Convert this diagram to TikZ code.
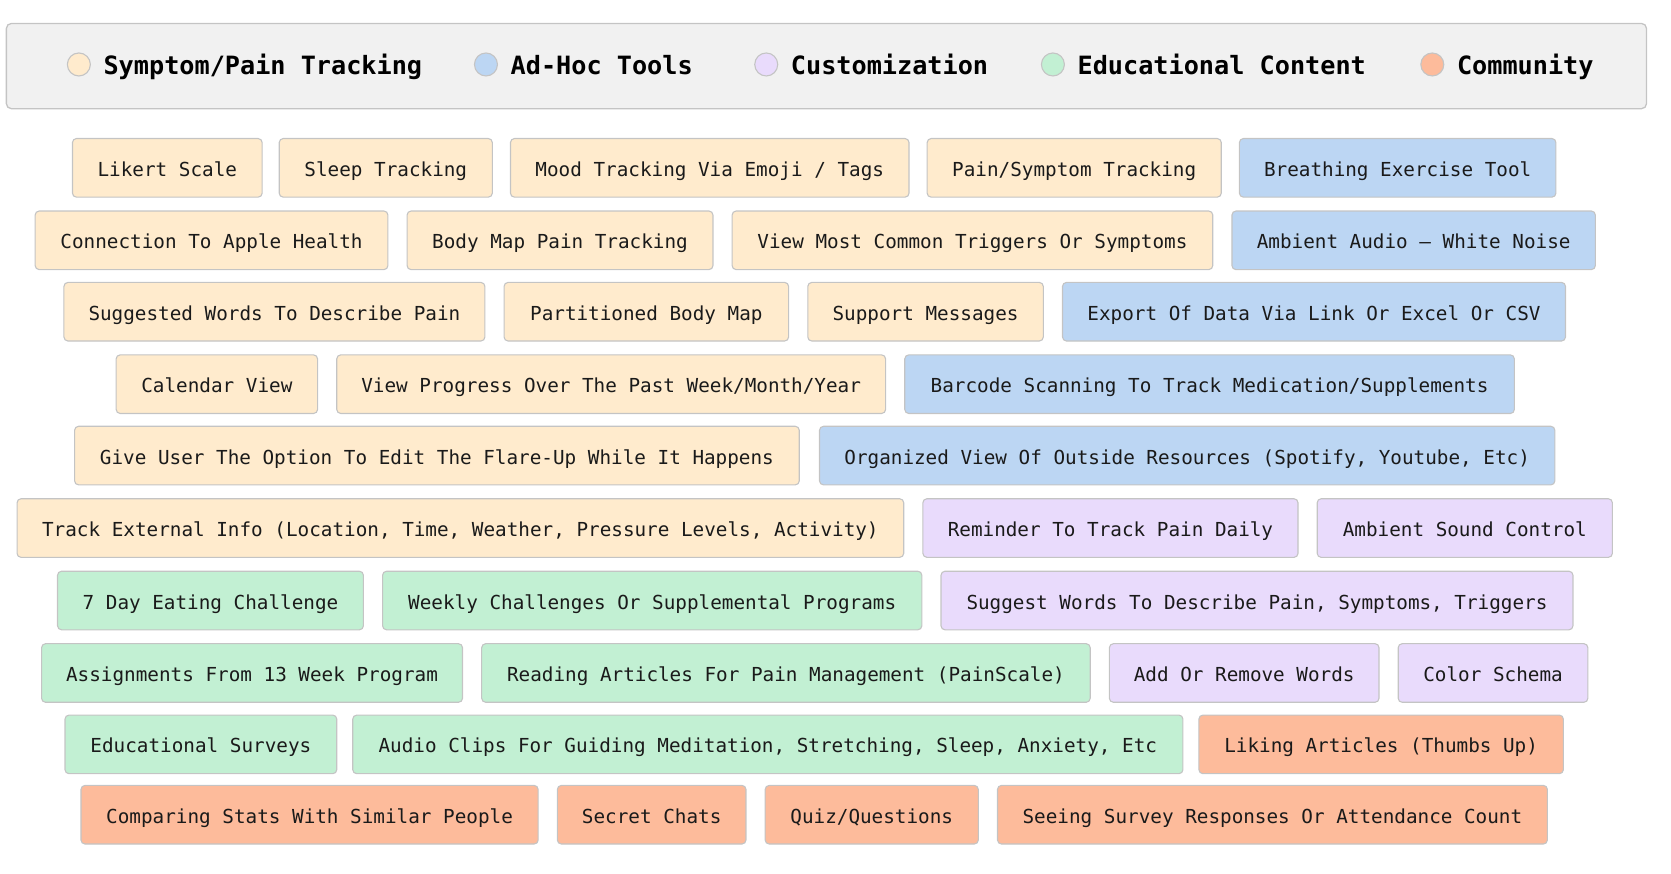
\documentclass[tikz,border=0pt]{standalone}
\usepackage{fontspec}
\newfontfamily\boxfont{DejaVu Sans Mono}
\definecolor{cSym}{HTML}{FFEBCD}
\definecolor{cAd}{HTML}{BCD6F3}
\definecolor{cCu}{HTML}{E9DBFC}
\definecolor{cEd}{HTML}{C2F0D3}
\definecolor{cCo}{HTML}{FDBB9B}
\definecolor{cLeg}{HTML}{F1F1F1}
\definecolor{cBor}{HTML}{C4C4C4}
\definecolor{cTxt}{HTML}{1A1A1A}
\tikzset{
  box/.style={draw=cBor, line width=1.1pt, rounded corners=4pt, rectangle,
    inner sep=0pt, minimum height=58.6pt, text=cTxt, text height=17pt, text depth=0pt,
    font=\boxfont\fontsize{19.3}{23}\selectfont},
  legcirc/.style={circle, draw=cBor, line width=1.1pt, minimum size=23pt, inner sep=0pt},
  legtext/.style={anchor=west, inner sep=0pt, text=black, text height=18.4pt, text depth=0pt,
    font=\boxfont\bfseries\fontsize{25.2}{30}\selectfont},
  legbox/.style={draw=cBor, line width=1.3pt, rounded corners=5pt, fill=cLeg}
}
\newcommand\bx[6]{\node[box,fill=#2,minimum width={(#4-#3)*1.0657pt}] (#1) at ({(#3+#4)/2},#5) {#6};}
\begin{document}
\begin{tikzpicture}[x=1.0657pt,y=-1.0657pt]
\useasboundingbox (0,0) rectangle (1568,820);
% legend
\draw[legbox] (6,22) rectangle (1545,102);
\node[legcirc,fill=cSym] (l1) at (74,60.5) {};
\node[legtext] (t1) at (97,61.3) {Symptom/Pain Tracking};
\node[legcirc,fill=cAd] (l2) at (456,60.5) {};
\node[legtext] (t2) at (479,61.3) {Ad-Hoc Tools};
\node[legcirc,fill=cCu] (l3) at (719,60.5) {};
\node[legtext] (t3) at (742,61.3) {Customization};
\node[legcirc,fill=cEd] (l4) at (988,60.5) {};
\node[legtext] (t4) at (1011,61.3) {Educational Content};
\node[legcirc,fill=cCo] (l5) at (1344,60.5) {};
\node[legtext] (t5) at (1367,61.3) {Community};
% row 1
\bx{a1}{cSym}{68}{246}{157.5}{Likert Scale}
\bx{a2}{cSym}{262}{462}{157.5}{Sleep Tracking}
\bx{a3}{cSym}{479}{853}{157.5}{Mood Tracking Via Emoji / Tags}
\bx{a4}{cSym}{870}{1146}{157.5}{Pain/Symptom Tracking}
\bx{a5}{cAd}{1163}{1460}{157.5}{Breathing Exercise Tool}
% row 2
\bx{b1}{cSym}{33}{364}{225.5}{Connection To Apple Health}
\bx{b2}{cSym}{382}{669}{225.5}{Body Map Pain Tracking}
\bx{b3}{cSym}{687}{1138}{225.5}{View Most Common Triggers Or Symptoms}
\bx{b4}{cAd}{1156}{1497}{225.5}{Ambient Audio – White Noise}
% row 3
\bx{c1}{cSym}{60}{455}{292.5}{Suggested Words To Describe Pain}
\bx{c2}{cSym}{473}{740}{292.5}{Partitioned Body Map}
\bx{c3}{cSym}{758}{979}{292.5}{Support Messages}
\bx{c4}{cAd}{997}{1469}{292.5}{Export Of Data Via Link Or Excel Or CSV}
% row 4
\bx{d1}{cSym}{109}{298}{360.5}{Calendar View}
\bx{d2}{cSym}{316}{831}{360.5}{View Progress Over The Past Week/Month/Year}
\bx{d3}{cAd}{849}{1421}{360.5}{Barcode Scanning To Track Medication/Supplements}
% row 5
\bx{e1}{cSym}{70}{750}{427.5}{Give User The Option To Edit The Flare-Up While It Happens}
\bx{e2}{cAd}{769}{1459}{427.5}{Organized View Of Outside Resources (Spotify, Youtube, Etc)}
% row 6
\bx{f1}{cSym}{16}{848}{495.5}{Track External Info (Location, Time, Weather, Pressure Levels, Activity)}
\bx{f2}{cCu}{866}{1218}{495.5}{Reminder To Track Pain Daily}
\bx{f3}{cCu}{1236}{1513}{495.5}{Ambient Sound Control}
% row 7
\bx{g1}{cEd}{54}{341}{563.5}{7 Day Eating Challenge}
\bx{g2}{cEd}{359}{865}{563.5}{Weekly Challenges Or Supplemental Programs}
\bx{g3}{cCu}{883}{1476}{563.5}{Suggest Words To Describe Pain, Symptoms, Triggers}
% row 8
\bx{h1}{cEd}{39}{434}{631.5}{Assignments From 13 Week Program}
\bx{h2}{cEd}{452}{1023}{631.5}{Reading Articles For Pain Management (PainScale)}
\bx{h3}{cCu}{1041}{1294}{631.5}{Add Or Remove Words}
\bx{h4}{cCu}{1312}{1490}{631.5}{Color Schema}
% row 9
\bx{i1}{cEd}{61}{316}{698.5}{Educational Surveys}
\bx{i2}{cEd}{331}{1110}{698.5}{Audio Clips For Guiding Meditation, Stretching, Sleep, Anxiety, Etc}
\bx{i3}{cCo}{1125}{1467}{698.5}{Liking Articles (Thumbs Up)}
% row 10
\bx{j1}{cCo}{76}{505}{764.5}{Comparing Stats With Similar People}
\bx{j2}{cCo}{523}{700}{764.5}{Secret Chats}
\bx{j3}{cCo}{718}{918}{764.5}{Quiz/Questions}
\bx{j4}{cCo}{936}{1452}{764.5}{Seeing Survey Responses Or Attendance Count}
\end{tikzpicture}
\end{document}
